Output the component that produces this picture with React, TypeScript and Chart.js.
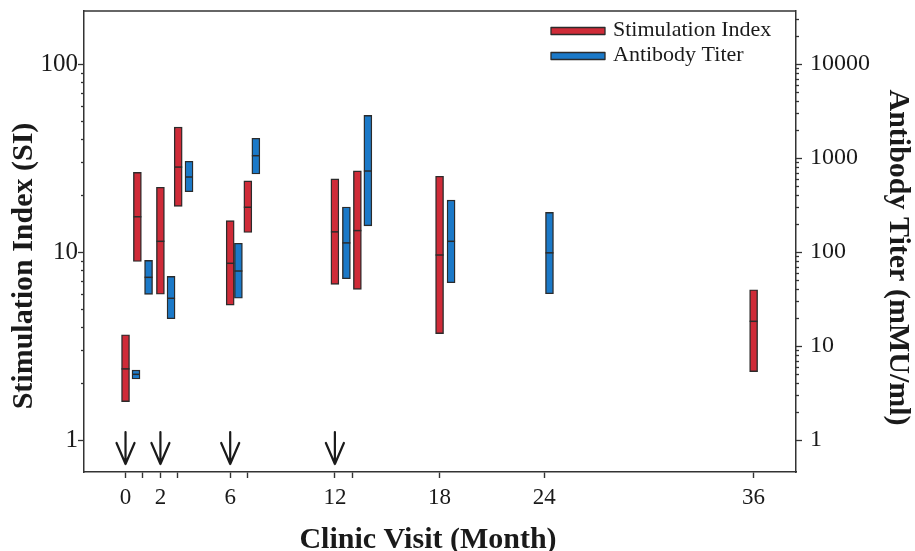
import React, { useEffect, useRef } from 'react';
import { Chart, registerables } from 'chart.js';

Chart.register(...registerables);

const FONT = "'Liberation Serif', 'Times New Roman', Times, serif";
const RED = '#cf2b38';
const BLUE = '#1b79c8';
const EDGE = '#2b2b2b';
const AXIS = '#333333';
const INK = '#1a1a1a';

// ---- data ----
const siMonths = [0, 0.68, 2, 3.02, 6, 7.01, 12, 13.29, 18, 36];
const siLow = [1.6, 8.9, 5.96, 17.5, 5.22, 12.7, 6.73, 6.33, 3.68, 2.31];
const siHigh = [3.63, 26.5, 22.1, 46.2, 14.7, 23.9, 24.5, 27.0, 25.3, 6.3];
const siMedian = [2.39, 15.4, 11.4, 28.3, 8.71, 17.3, 12.8, 13.0, 9.64, 4.28];

const titerMonths = [0.6, 1.32, 2.61, 3.64, 6.47, 7.47, 12.66, 13.89, 18.66, 24.3];
const titerLow = [4.46, 35.5, 19.5, 438, 32.2, 676, 52, 190, 47.1, 36.0];
const titerHigh = [5.55, 81.6, 55.1, 923, 124, 1622, 301, 2845, 357, 264];
const titerMedian = [5.0, 53.8, 32.2, 628, 62.8, 1058, 125, 727, 130, 98];

const arrowMonths = [0, 2, 6, 12];

const xTickValues = [0, 1, 2, 3, 6, 7, 12, 13, 18, 24, 36];
const xTickLabels = [0, 2, 6, 12, 18, 24, 36];
const siMajorTicks = [1, 10, 100];
const titerMajorTicks = [1, 10, 100, 1000, 10000];

const X_MIN = -2.38;
const X_MAX = 38.43;
const SI_MIN = 0.676;
const SI_MAX = 191.4;

const TITLE_X = 'Clinic Visit (Month)';
const TITLE_Y = 'Stimulation Index (SI)';
const TITLE_Y2 = 'Antibody Titer (mMU/ml)';

function logTicks(majors: number[], min: number, max: number) {
  const out: number[] = [];
  majors.forEach((d) => {
    for (let k = 1; k <= 9; k++) {
      const v = d * k;
      if (v >= min && v <= max) out.push(v);
    }
  });
  return out;
}

const decorPlugin = {
  id: 'decor',
  afterDraw(chart: any) {
    const { ctx, chartArea: a, scales } = chart;
    ctx.save();
    // top frame line
    ctx.strokeStyle = AXIS;
    ctx.lineWidth = 1.5;
    ctx.beginPath();
    ctx.moveTo(a.left, a.top);
    ctx.lineTo(a.right, a.top);
    ctx.stroke();

    // y tick marks (major longer than minor)
    const drawYTicks = (scale: any, majors: number[], side: 'left' | 'right') => {
      ctx.strokeStyle = AXIS;
      ctx.lineWidth = 1.3;
      scale.ticks.forEach((t: any) => {
        const y = Math.round(scale.getPixelForValue(t.value)) + 0.5;
        const len = majors.includes(t.value) ? 6 : 3;
        ctx.beginPath();
        if (side === 'left') {
          ctx.moveTo(a.left - len, y);
          ctx.lineTo(a.left, y);
        } else {
          ctx.moveTo(a.right, y);
          ctx.lineTo(a.right + len, y);
        }
        ctx.stroke();
      });
    };
    drawYTicks(scales.y, siMajorTicks, 'left');
    drawYTicks(scales.y2, titerMajorTicks, 'right');

    // arrows (vaccination times)
    ctx.strokeStyle = INK;
    ctx.lineWidth = 2.2;
    ctx.lineCap = 'round';
    ctx.lineJoin = 'round';
    arrowMonths.forEach((m) => {
      const x = scales.x.getPixelForValue(m);
      const tip = a.bottom - 8;
      ctx.beginPath();
      ctx.moveTo(x, a.bottom - 40);
      ctx.lineTo(x, tip);
      ctx.moveTo(x - 9, tip - 21);
      ctx.lineTo(x, tip);
      ctx.lineTo(x + 9, tip - 21);
      ctx.stroke();
    });

    // legend (inside plot, top right)
    const items = chart.data.datasets.filter((d: any) => d.type === 'bar');
    const lx = a.right - 245;
    items.forEach((d: any, i: number) => {
      const cy = a.top + 20 + i * 25;
      ctx.fillStyle = d.backgroundColor;
      ctx.fillRect(lx, cy - 3.5, 54, 7);
      ctx.strokeStyle = EDGE;
      ctx.lineWidth = 1.3;
      ctx.strokeRect(lx, cy - 3.5, 54, 7);
      ctx.fillStyle = INK;
      ctx.font = `22px ${FONT}`;
      ctx.textAlign = 'left';
      ctx.textBaseline = 'alphabetic';
      ctx.fillText(d.label, lx + 62, cy + 5);
    });

    // axis titles
    ctx.fillStyle = INK;
    ctx.font = `bold 30px ${FONT}`;
    ctx.textAlign = 'center';
    ctx.textBaseline = 'alphabetic';
    ctx.fillText(TITLE_X, (a.left + a.right) / 2 - 12, a.bottom + 76);

    ctx.save();
    ctx.translate(32, (a.top + a.bottom) / 2 + 24.5);
    ctx.rotate(-Math.PI / 2);
    ctx.fillText(TITLE_Y, 0, 0);
    ctx.restore();

    ctx.save();
    ctx.translate(a.right + 94, (a.top + a.bottom) / 2 + 16);
    ctx.rotate(Math.PI / 2);
    ctx.fillText(TITLE_Y2, 0, 0);
    ctx.restore();

    ctx.restore();
  },
};

export default function App() {
  const ref = useRef<HTMLCanvasElement>(null);

  useEffect(() => {
    Chart.defaults.font.family = FONT;
    Chart.defaults.color = INK;

    const siTicks = logTicks(siMajorTicks, SI_MIN, SI_MAX);
    const titerTicks = logTicks(titerMajorTicks, SI_MIN * SI_MIN, SI_MAX * SI_MAX);

    const chart = new Chart(ref.current as HTMLCanvasElement, {
      type: 'bar',
      data: {
        datasets: [
          {
            type: 'scatter',
            label: 'SI median',
            data: siMonths.map((m, i) => ({ x: m, y: siMedian[i] })),
            yAxisID: 'y',
            pointStyle: 'line',
            pointRadius: 4,
            pointBorderWidth: 1.5,
            pointBorderColor: EDGE,
            order: 1,
          } as any,
          {
            type: 'scatter',
            label: 'Titer median',
            data: titerMonths.map((m, i) => ({ x: m, y: titerMedian[i] })),
            yAxisID: 'y2',
            pointStyle: 'line',
            pointRadius: 4,
            pointBorderWidth: 1.5,
            pointBorderColor: EDGE,
            order: 1,
          } as any,
          {
            type: 'bar',
            label: 'Stimulation Index',
            data: siMonths.map((m, i) => ({ x: m, y: [siLow[i], siHigh[i]] })),
            yAxisID: 'y',
            backgroundColor: RED,
            borderColor: EDGE,
            borderWidth: 1.4,
            borderSkipped: false,
            barThickness: 8,
            grouped: false,
            order: 2,
          } as any,
          {
            type: 'bar',
            label: 'Antibody Titer',
            data: titerMonths.map((m, i) => ({ x: m, y: [titerLow[i], titerHigh[i]] })),
            yAxisID: 'y2',
            backgroundColor: BLUE,
            borderColor: EDGE,
            borderWidth: 1.4,
            borderSkipped: false,
            barThickness: 8,
            grouped: false,
            order: 2,
          } as any,
        ],
      },
      options: {
        animation: false,
        responsive: true,
        maintainAspectRatio: false,
        events: [],
        layout: { padding: { top: 11, left: 0, right: 0, bottom: 0 } },
        plugins: {
          legend: { display: false },
          tooltip: { enabled: false },
          title: { display: false },
        },
        scales: {
          x: {
            type: 'linear',
            position: 'bottom',
            min: X_MIN,
            max: X_MAX,
            offset: false,
            afterBuildTicks: (s: any) => {
              s.ticks = xTickValues.map((v) => ({ value: v }));
            },
            afterFit: (s: any) => {
              s.height = 79;
              s.paddingLeft = 0;
              s.paddingRight = 0;
            },
            ticks: {
              autoSkip: false,
              maxRotation: 0,
              padding: 6,
              color: INK,
              font: { size: 23, family: FONT },
              callback: (v: any) => (xTickLabels.includes(Number(v)) ? String(v) : ''),
            },
            grid: {
              display: true,
              offset: false,
              drawOnChartArea: false,
              drawTicks: true,
              tickLength: 6,
              tickWidth: 1.4,
              color: AXIS,
              tickColor: AXIS,
            },
            border: { display: true, color: AXIS, width: 1.5 },
          },
          y: {
            type: 'logarithmic',
            position: 'left',
            min: SI_MIN,
            max: SI_MAX,
            afterBuildTicks: (s: any) => {
              s.ticks = siTicks.map((v) => ({ value: v }));
            },
            afterFit: (s: any) => {
              s.width = 84;
              s.paddingTop = 0;
              s.paddingBottom = 0;
            },
            ticks: {
              autoSkip: false,
              padding: 6,
              color: INK,
              font: { size: 25, family: FONT },
              callback: (v: any) => (siMajorTicks.includes(Number(v)) ? String(v) : ''),
            },
            grid: { display: false, drawTicks: false },
            border: { display: true, color: AXIS, width: 1.5 },
          },
          y2: {
            type: 'logarithmic',
            position: 'right',
            min: SI_MIN * SI_MIN,
            max: SI_MAX * SI_MAX,
            afterBuildTicks: (s: any) => {
              s.ticks = titerTicks.map((v) => ({ value: v }));
            },
            afterFit: (s: any) => {
              s.width = 119;
              s.paddingTop = 0;
              s.paddingBottom = 0;
            },
            ticks: {
              autoSkip: false,
              padding: 14,
              color: INK,
              font: { size: 24, family: FONT },
              callback: (v: any) => (titerMajorTicks.includes(Number(v)) ? String(v) : ''),
            },
            grid: { display: false, drawTicks: false },
            border: { display: true, color: AXIS, width: 1.5 },
          },
        },
      } as any,
      plugins: [decorPlugin],
    });

    return () => chart.destroy();
  }, []);

  return (
    <div style={{ position: 'absolute', left: 0, top: 0, width: 915, height: 551 }}>
      <canvas ref={ref} />
    </div>
  );
}
